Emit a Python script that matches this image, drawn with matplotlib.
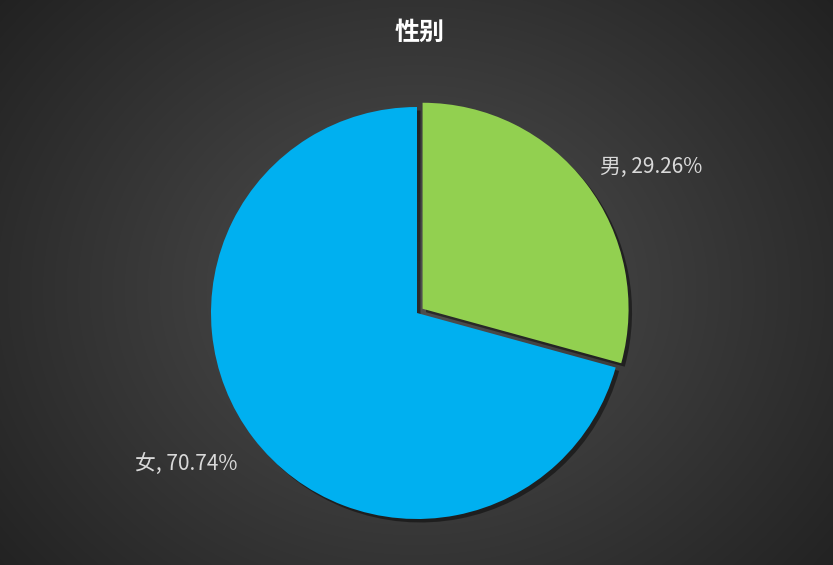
import matplotlib
matplotlib.use('Agg')
import matplotlib.pyplot as plt
import matplotlib.patheffects as pe
import numpy as np

plt.rcParams['font.family'] = ['Noto Sans CJK SC', 'DejaVu Sans']

# ── Datos ─────────────────────────────────────────────
title = "性别"
categories = ["男", "女"]
values = [29.26, 70.74]
colors = ["#92d050", "#00b0f0"]

W, H = 833, 565
fig = plt.figure(figsize=(W / 100, H / 100), dpi=100)

# fondo con degradado radial
bg = fig.add_axes([0, 0, 1, 1])
yy, xx = np.mgrid[0:H, 0:W]
r = np.sqrt(((xx - 416) / 560) ** 2 + ((yy - 290) / 470) ** 2)
r = np.clip(r, 0, 1)
c0, c1 = 0x50 / 255, 0x20 / 255
shade = c0 + (c1 - c0) * r
img = np.dstack([shade, shade, shade])
bg.imshow(img, extent=[0, W, 0, H], origin='upper', aspect='auto')
bg.axis('off')

ax = fig.add_axes([0, 0, 1, 1])
ax.axis('off')

cx, cy, R = 417, 252, 206
labels = [f"{c}, {v:.2f}%" for c, v in zip(categories, values)]
wedges, texts = ax.pie(values, colors=colors, startangle=90, counterclock=False,
                       explode=[0.034 * R, 0], center=(cx, cy), radius=R,
                       labels=labels, labeldistance=1.12,
                       textprops=dict(color='#d9d9d9', fontsize=15),
                       wedgeprops=dict(linewidth=0))
ax.set_xlim(0, W)
ax.set_ylim(0, H)
ax.set_aspect('equal')
for w in wedges:
    w.set_path_effects([pe.SimplePatchShadow(offset=(2.5, -2.5), shadow_rgbFace='black', alpha=0.45),
                        pe.Normal()])

# alineación de etiquetas según el lado del pastel
for t, (dx, dy) in zip(texts, [(-6, 2), (4, -11)]):
    x, y = t.get_position()
    t.set_position((x + dx, y + dy))
    t.set_ha('left' if x > cx else 'right')
    t.set_va('center')

fig.text(0.504, 1 - 33 / H, title, ha='center', va='center', color='white',
         fontsize=18, fontweight='bold')

fig.savefig("out.png", dpi=100)
